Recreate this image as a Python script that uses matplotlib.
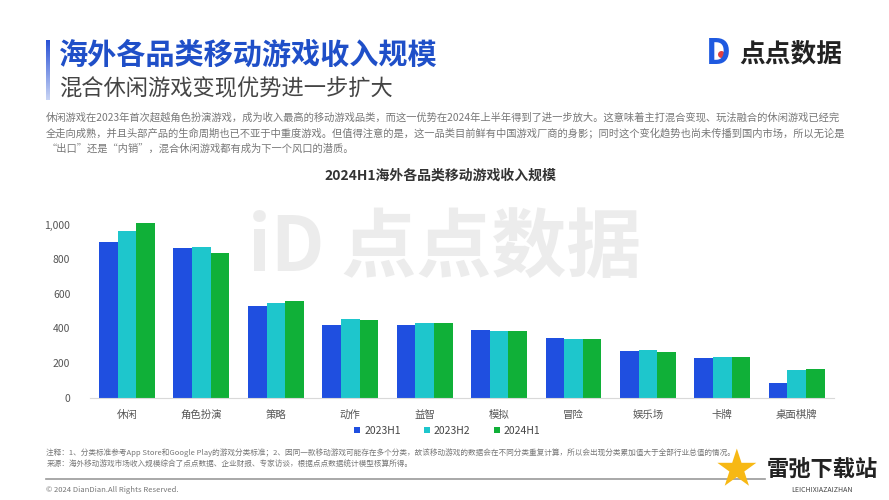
import matplotlib
matplotlib.use('Agg')
import matplotlib.pyplot as plt
import numpy as np

plt.rcParams['font.family'] = ['Noto Sans CJK SC', 'DejaVu Sans']

categories = ['休闲', '角色扮演', '策略', '动作', '益智', '模拟', '冒险', '娱乐场', '卡牌', '桌面棋牌']
series_names = ['2023H1', '2023H2', '2024H1']
rev_2023h1 = [898, 867, 529, 419, 419, 390, 342, 271, 231, 87]
rev_2023h2 = [961, 873, 544, 452, 432, 388, 337, 273, 233, 158]
rev_2024h1 = [1006, 836, 558, 446, 430, 385, 337, 265, 233, 164]
colors = ['#1f4fe0', '#1ec6cc', '#10b038']
y_ticks = [0, 200, 400, 600, 800, 1000]

fig = plt.figure(figsize=(8.89, 5), dpi=100, facecolor='white')

# header: blue bar fading out toward the bottom
bar_ax = fig.add_axes([0.052, 0.80, 0.004, 0.12])
bar_ax.imshow(np.linspace(0, 1, 50).reshape(-1, 1), aspect='auto',
              cmap=matplotlib.colors.LinearSegmentedColormap.from_list('fade', ['#2a52d6', '#c8d4f4']))
bar_ax.axis('off')
fig.text(0.066, 0.89, '海外各品类移动游戏收入规模', fontsize=21, fontweight='bold',
         color='#1f4fc8', va='center', ha='left')
fig.text(0.066, 0.823, '混合休闲游戏变现优势进一步扩大', fontsize=16, color='#444444',
         va='center', ha='left')

para = ['休闲游戏在2023年首次超越角色扮演游戏，成为收入最高的移动游戏品类，而这一优势在2024年上半年得到了进一步放大。这意味着主打混合变现、玩法融合的休闲游戏已经完',
        '全走向成熟，并且头部产品的生命周期也已不亚于中重度游戏。但值得注意的是，这一品类目前鲜有中国游戏厂商的身影；同时这个变化趋势也尚未传播到国内市场，所以无论是',
        '“出口”还是“内销”，混合休闲游戏都有成为下一个风口的潜质。']
for i, line in enumerate(para):
    fig.text(0.052, 0.766 - i * 0.032, line, fontsize=7.4, color='#777777', va='center', ha='left')

# logo top right
fig.text(0.808, 0.893, 'D', fontsize=25, fontweight='bold', color='#1f5ae0', va='center', ha='center')
fig.add_artist(plt.Line2D([0.8105], [0.893], transform=fig.transFigure, marker='o',
                          markersize=4, color='#e04040', linestyle='none'))
fig.text(0.832, 0.892, '点点数据', fontsize=18.5, fontweight='bold', color='#222222', va='center', ha='left')

# chart title
fig.text(0.495, 0.648, '2024H1海外各品类移动游戏收入规模', fontsize=10, fontweight='bold',
         color='#333333', va='center', ha='center')

# watermark
fig.text(0.50, 0.50, 'iD 点点数据', fontsize=54, fontweight='bold', color='#ececec',
         va='center', ha='center', zorder=0)

ax = fig.add_axes([0.101, 0.2046, 0.837, 0.381])
ax.set_facecolor('none')
x = np.arange(len(categories))
w = 0.25
for k, (vals, c, name) in enumerate(zip([rev_2023h1, rev_2023h2, rev_2024h1], colors, series_names)):
    ax.bar(x + (k - 1) * w, vals, width=w, color=c, label=name, zorder=2)

ax.set_xlim(-0.5, len(categories) - 0.5)
ax.set_ylim(0, 1100)
ax.set_yticks(y_ticks)
ax.set_yticklabels(['{:,}'.format(v) for v in y_ticks], fontsize=7.5, color='#555555')
ax.set_xticks(x)
ax.set_xticklabels(categories, fontsize=7.5, color='#555555')
ax.tick_params(axis='x', length=0, pad=9)
ax.tick_params(axis='y', length=0, pad=14)
for s in ['top', 'right', 'left']:
    ax.spines[s].set_visible(False)
ax.spines['bottom'].set_color('#d9d9d9')
ax.spines['bottom'].set_linewidth(0.8)

leg = fig.legend(loc='center', bbox_to_anchor=(0.503, 0.139), ncol=3, frameon=False,
                 fontsize=7.5, handlelength=0.6, handleheight=0.6, columnspacing=2.2,
                 handletextpad=0.4)
for t in leg.get_texts():
    t.set_color('#444444')

# notes
fig.text(0.052, 0.095, '注释：1、分类标准参考App Store和Google Play的游戏分类标准；2、因同一款移动游戏可能存在多个分类，故该移动游戏的数据会在不同分类重复计算，所以会出现分类累加值大于全部行业总值的情况。',
         fontsize=5.5, color='#777777', va='center', ha='left')
fig.text(0.052, 0.071, '来源：海外移动游戏市场收入规模综合了点点数据、企业财报、专家访谈，根据点点数据统计模型核算所得。',
         fontsize=5.5, color='#777777', va='center', ha='left')
fig.add_artist(plt.Line2D([0.052, 0.86], [0.043, 0.043], transform=fig.transFigure,
                          color='#999999', linewidth=1.2))
fig.text(0.052, 0.021, '© 2024 DianDian.All Rights Reserved.', fontsize=5.5, color='#777777',
         va='center', ha='left')

# download-site stamp bottom right
fig.text(0.828, 0.058, '★', fontsize=30, color='#f7b814', va='center', ha='center')
fig.text(0.925, 0.062, '雷弛下载站', fontsize=16, fontweight='bold', color='#222222',
         va='center', ha='center')
fig.text(0.925, 0.02, 'LEICHIXIAZAIZHAN', fontsize=5, color='#444444', va='center', ha='center')

fig.savefig('out.png', dpi=100, facecolor='white')
